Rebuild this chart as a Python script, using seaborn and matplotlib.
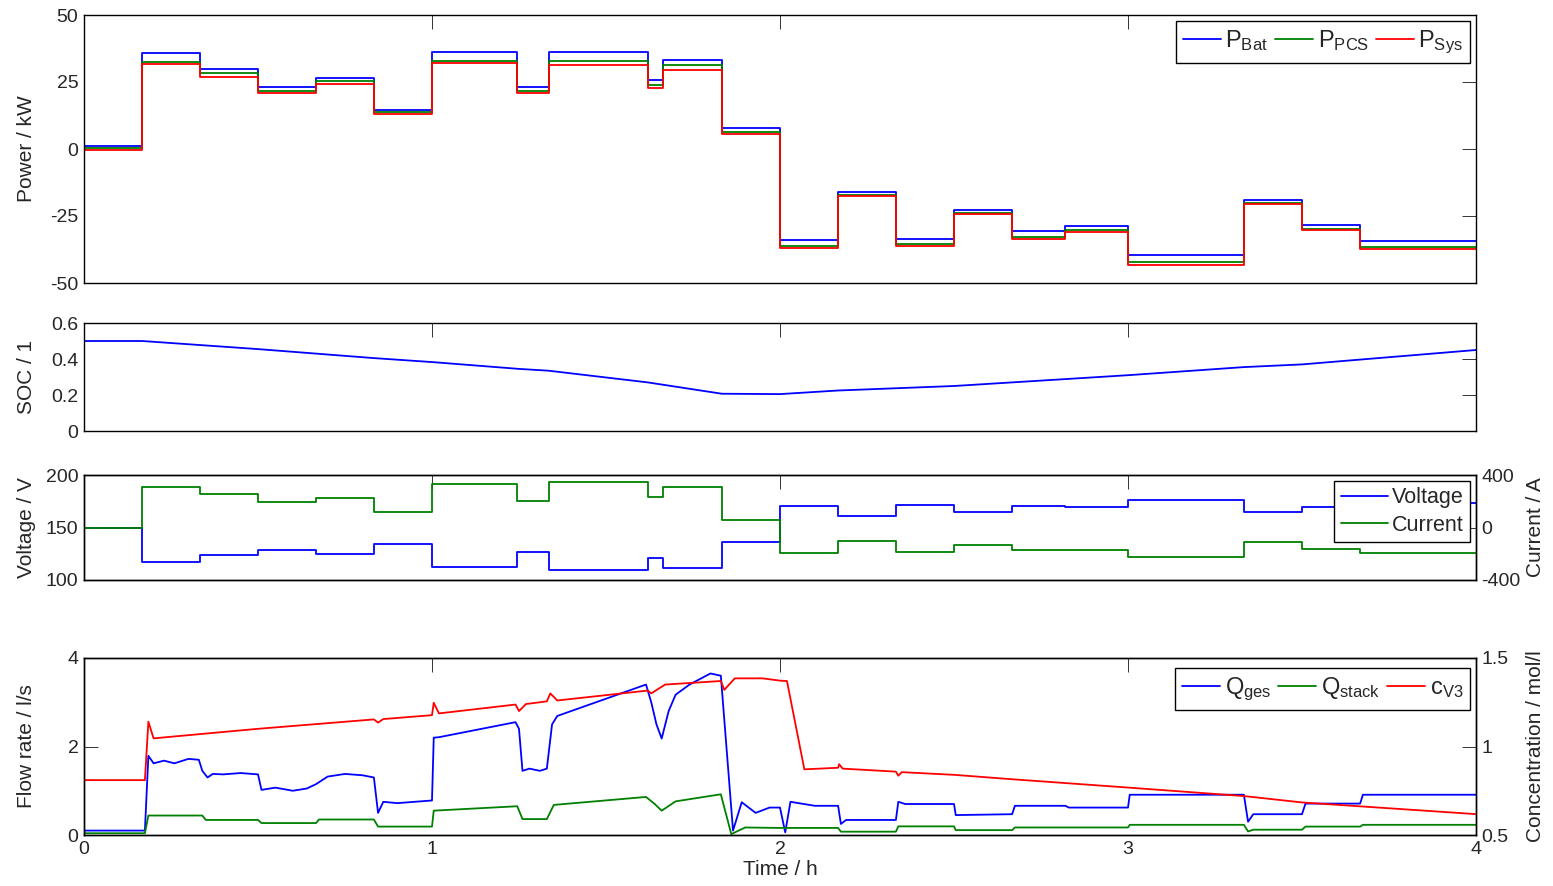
import matplotlib
matplotlib.use("Agg")
import matplotlib.pyplot as plt
import pandas as pd
import seaborn as sns

# ---------------- data ----------------
# step boundaries of the load profile (h)
step_t = [0.0, 0.167, 0.333, 0.5, 0.667, 0.833, 1.0, 1.245, 1.335, 1.62, 1.665, 1.833,
          2.0, 2.167, 2.333, 2.5, 2.667, 2.82, 3.0, 3.333, 3.5, 3.667, 4.0]

# power levels per step (kW)
p_bat = [1.2, 35.7, 29.8, 23.0, 26.4, 14.6, 36.3, 23.0, 36.3, 25.8, 33.2, 7.8,
         -33.9, -16.2, -33.6, -22.7, -30.7, -28.6, -39.4, -18.9, -28.3, -34.5]
p_pcs = [0.3, 32.6, 28.3, 21.8, 25.2, 13.8, 33.0, 21.8, 33.0, 24.0, 31.4, 6.5,
         -36.3, -17.2, -35.6, -23.7, -32.8, -30.4, -42.0, -20.0, -29.8, -36.6]
p_sys = [-0.3, 31.7, 27.0, 20.8, 24.3, 13.1, 32.0, 20.8, 31.4, 22.7, 29.3, 5.7,
         -37.0, -17.7, -36.3, -24.2, -33.6, -31.1, -43.2, -20.4, -30.4, -37.3]

# stack voltage (V) and current (A) per step
voltage = [150.0, 116.8, 123.8, 128.6, 124.4, 134.3, 112.5, 126.3, 109.5, 120.6, 111.0, 136.5,
           170.5, 160.6, 171.0, 164.7, 170.5, 169.5, 176.3, 164.7, 169.4, 173.5]
current = [0.0, 311.0, 253.0, 192.0, 223.0, 116.0, 330.0, 202.0, 345.0, 235.0, 311.0, 57.0,
           -198.0, -102.0, -190.0, -130.0, -175.0, -170.0, -223.0, -110.0, -160.0, -198.0]

# state of charge
soc_t = [0.0, 0.167, 0.5, 0.833, 1.0, 1.25, 1.335, 1.62, 1.833, 2.0, 2.167, 2.5, 3.0, 3.333, 3.5, 4.0]
soc = [0.50, 0.50, 0.455, 0.405, 0.383, 0.345, 0.335, 0.27, 0.207, 0.205, 0.225, 0.25, 0.31, 0.355,
       0.37, 0.45]

# total electrolyte flow rate (l/s)
q_ges_t = [0.0, 0.175, 0.185, 0.2, 0.23, 0.26, 0.3, 0.33, 0.34, 0.355, 0.37, 0.4, 0.45, 0.5,
           0.51, 0.55, 0.6, 0.64, 0.667, 0.7, 0.75, 0.8, 0.833, 0.845, 0.86, 0.9, 0.95, 1.0,
           1.005, 1.02, 1.24, 1.25, 1.26, 1.28, 1.31, 1.33, 1.345, 1.36, 1.615, 1.63, 1.645,
           1.66, 1.68, 1.7, 1.74, 1.8, 1.83, 1.865, 1.89, 1.93, 1.97, 2.0, 2.015, 2.03, 2.1,
           2.167, 2.175, 2.19, 2.333, 2.34, 2.36, 2.5, 2.505, 2.667, 2.675, 2.82, 2.83, 3.0,
           3.005, 3.333, 3.345, 3.36, 3.5, 3.51, 3.667, 3.675, 4.0]
q_ges = [0.1, 0.1, 1.79, 1.62, 1.68, 1.62, 1.72, 1.7, 1.45, 1.3, 1.38, 1.37, 1.4, 1.37,
         1.02, 1.07, 1.0, 1.05, 1.15, 1.32, 1.38, 1.35, 1.3, 0.5, 0.75, 0.72, 0.75, 0.78,
         2.2, 2.21, 2.55, 2.4, 1.45, 1.5, 1.45, 1.5, 2.5, 2.69, 3.4, 3.0, 2.5,
         2.18, 2.8, 3.17, 3.4, 3.65, 3.6, 0.1, 0.74, 0.5, 0.62, 0.62, 0.06, 0.75, 0.66,
         0.66, 0.25, 0.34, 0.34, 0.75, 0.7, 0.7, 0.45, 0.47, 0.66, 0.66, 0.62, 0.62,
         0.91, 0.91, 0.3, 0.47, 0.47, 0.71, 0.71, 0.91, 0.91]

# stack flow rate (l/s)
q_stack_t = [0.0, 0.175, 0.185, 0.34, 0.35, 0.5, 0.51, 0.667, 0.675, 0.833, 0.845, 1.0, 1.005,
             1.245, 1.26, 1.33, 1.35, 1.615, 1.64, 1.66, 1.7, 1.83, 1.86, 1.9, 2.0, 2.167,
             2.175, 2.333, 2.34, 2.5, 2.505, 2.667, 2.675, 3.0, 3.005, 3.333, 3.345, 3.36,
             3.5, 3.51, 3.667, 3.675, 4.0]
q_stack = [0.04, 0.04, 0.44, 0.44, 0.34, 0.34, 0.27, 0.27, 0.35, 0.35, 0.19, 0.19, 0.55,
           0.65, 0.36, 0.36, 0.68, 0.86, 0.7, 0.55, 0.76, 0.92, 0.02, 0.17, 0.16, 0.16,
           0.075, 0.075, 0.195, 0.195, 0.11, 0.11, 0.17, 0.17, 0.23, 0.23, 0.08, 0.12,
           0.12, 0.19, 0.19, 0.23, 0.23]

# V3 concentration (mol/l)
c_v3_t = [0.0, 0.175, 0.185, 0.2, 0.5, 0.833, 0.845, 0.86, 1.0, 1.005, 1.02, 1.24, 1.25, 1.27,
          1.33, 1.34, 1.36, 1.62, 1.63, 1.67, 1.83, 1.84, 1.87, 1.95, 2.0, 2.02, 2.07, 2.167,
          2.17, 2.18, 2.333, 2.34, 2.35, 2.5, 2.667, 3.0, 3.333, 3.5, 4.0]
c_v3 = [0.81, 0.81, 1.14, 1.046, 1.10, 1.153, 1.135, 1.155, 1.177, 1.247, 1.187, 1.237, 1.2,
        1.24, 1.255, 1.30, 1.26, 1.316, 1.3, 1.35, 1.37, 1.32, 1.385, 1.385, 1.372, 1.37,
        0.871, 0.88, 0.9, 0.875, 0.858, 0.835, 0.855, 0.84, 0.815, 0.768, 0.72, 0.684, 0.618]

# ---------------- style ----------------
sns.set_style("white")
plt.rcParams.update({
    "font.family": ["Liberation Sans", "DejaVu Sans"],
    "axes.unicode_minus": False,
    "mathtext.fontset": "custom",
    "mathtext.rm": "Liberation Sans",
    "mathtext.it": "Liberation Sans",
    "axes.edgecolor": "black",
    "axes.linewidth": 1.0,
})

BLUE, GREEN, RED = "#0000ff", "#008000", "#ff0000"
LW = 1.3
TICK_FS = 14
LABEL_FONT = {"family": ["Liberation Sans", "DejaVu Sans"], "size": 15}
LEFT_LABEL_X = -0.0345
RIGHT_LABEL_X = 1.036

W, H = 1553, 886
fig = plt.figure(figsize=(W / 100, H / 100), dpi=100)


def box(top, bottom, left=84, right=1476):
    return [left / W, 1 - bottom / H, (right - left) / W, (bottom - top) / H]


def style_axis(ax, right=True):
    ax.tick_params(direction="in", length=10, width=0.7, labelsize=TICK_FS, pad=4,
                   top=True, right=right, color="#333333")
    ax.set_xlim(0, 4)
    ax.set_xticks([0, 1, 2, 3, 4])


def style_right(ax):
    ax.tick_params(direction="in", length=10, width=0.7, labelsize=TICK_FS, pad=4,
                   color="#333333")


def steps(levels):
    return list(levels) + [levels[-1]]


def step_line(ax, y, color, label=None):
    df = pd.DataFrame({"t": step_t, "v": steps(y)})
    sns.lineplot(data=df, x="t", y="v", ax=ax, color=color, lw=LW, drawstyle="steps-post",
                 estimator=None, sort=False, label=label, legend=False)


def curve(ax, t, y, color, label=None):
    df = pd.DataFrame({"t": t, "v": y})
    sns.lineplot(data=df, x="t", y="v", ax=ax, color=color, lw=LW,
                 estimator=None, sort=False, label=label, legend=False)


def legend(ax, handles, labels, anchor, ncol, size, handlelength=1.6):
    leg = ax.legend(handles, labels, loc="upper right", bbox_to_anchor=anchor, ncol=ncol,
                    borderaxespad=0, fancybox=False, edgecolor="black", framealpha=1,
                    prop={"family": "Liberation Sans", "size": size},
                    handlelength=handlelength, handletextpad=0.2, columnspacing=0.3,
                    borderpad=0.3, labelspacing=0.3)
    leg.get_frame().set_linewidth(1.0)
    return leg


def left_label(ax, text):
    ax.set_ylabel(text, fontdict=LABEL_FONT)
    ax.yaxis.set_label_coords(LEFT_LABEL_X, 0.5)


def right_label(ax, text):
    ax.set_ylabel(text, fontdict=LABEL_FONT)
    ax.yaxis.set_label_coords(RIGHT_LABEL_X, 0.5)


# ---------------- panel 1: power ----------------
ax1 = fig.add_axes(box(15, 283))
step_line(ax1, p_bat, BLUE, r"P$_{\mathrm{Bat}}$")
step_line(ax1, p_pcs, GREEN, r"P$_{\mathrm{PCS}}$")
step_line(ax1, p_sys, RED, r"P$_{\mathrm{Sys}}$")
style_axis(ax1)
ax1.set_ylim(-50, 50)
ax1.set_yticks([-50, -25, 0, 25, 50])
ax1.set_xticklabels([])
ax1.set_xlabel("")
left_label(ax1, "Power / kW")
h, l = ax1.get_legend_handles_labels()
legend(ax1, h, l, (0.996, 0.978), 3, 17)

# ---------------- panel 2: SOC ----------------
ax2 = fig.add_axes(box(323, 431))
curve(ax2, soc_t, soc, BLUE)
style_axis(ax2)
ax2.set_ylim(0, 0.6)
ax2.set_yticks([0, 0.2, 0.4, 0.6])
ax2.set_yticklabels(["0", "0.2", "0.4", "0.6"])
ax2.set_xticklabels([])
ax2.set_xlabel("")
left_label(ax2, "SOC / 1")

# ---------------- panel 3: voltage / current ----------------
ax3 = fig.add_axes(box(475, 580))
step_line(ax3, voltage, BLUE, "Voltage")
style_axis(ax3, right=False)
ax3.set_ylim(100, 200)
ax3.set_yticks([100, 150, 200])
ax3.set_xticklabels([])
ax3.set_xlabel("")
left_label(ax3, "Voltage / V")
ax3r = ax3.twinx()
step_line(ax3r, current, GREEN, "Current")
ax3r.set_ylim(-400, 400)
ax3r.set_yticks([-400, 0, 400])
style_right(ax3r)
right_label(ax3r, "Current / A")
h1, l1 = ax3.get_legend_handles_labels()
h2, l2 = ax3r.get_legend_handles_labels()
legend(ax3r, h1 + h2, l1 + l2, (0.996, 0.943), 1, 15.5, handlelength=2.2)

# ---------------- panel 4: flow / concentration ----------------
ax4 = fig.add_axes(box(658, 835))
curve(ax4, q_ges_t, q_ges, BLUE, r"Q$_{\mathrm{ges}}$")
curve(ax4, q_stack_t, q_stack, GREEN, r"Q$_{\mathrm{stack}}$")
style_axis(ax4, right=False)
ax4.set_ylim(0, 4)
ax4.set_yticks([0, 2, 4])
ax4.set_xticklabels(["0", "1", "2", "3", "4"])
ax4.set_xlabel("Time / h", fontdict=LABEL_FONT, labelpad=2)
left_label(ax4, "Flow rate / l/s")
ax4r = ax4.twinx()
curve(ax4r, c_v3_t, c_v3, RED, r"c$_{\mathrm{V3}}$")
ax4r.set_ylim(0.5, 1.5)
ax4r.set_yticks([0.5, 1.0, 1.5])
ax4r.set_yticklabels(["0.5", "1", "1.5"])
style_right(ax4r)
right_label(ax4r, "Concentration / mol/l")
h1, l1 = ax4.get_legend_handles_labels()
h2, l2 = ax4r.get_legend_handles_labels()
legend(ax4r, h1 + h2, l1 + l2, (0.996, 0.944), 3, 17)

fig.savefig("out.png", dpi=100, facecolor="white")
